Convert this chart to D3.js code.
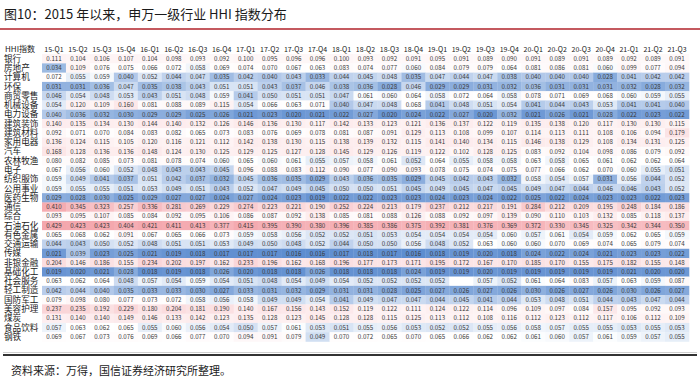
<!DOCTYPE html>
<html>
<head>
<meta charset="utf-8">
<script src="https://cdn.jsdelivr.net/npm/d3@7"></script>
<style>
  body { margin: 0; background: #fff; }
  svg { display: block; font-family: "Noto Sans CJK SC", "Noto Sans", sans-serif; }
</style>
</head>
<body>
<svg id="chart" width="700" height="383"></svg>
<script>
// DATA -----------------------------------------------------------
const quarters = ["15-Q1","15-Q2","15-Q3","15-Q4","16-Q1","16-Q2","16-Q3","16-Q4",
  "17-Q1","17-Q2","17-Q3","17-Q4","18-Q1","18-Q2","18-Q3","18-Q4",
  "19-Q1","19-Q2","19-Q3","19-Q4","20-Q1","20-Q2","20-Q3","20-Q4","21-Q1","21-Q2","21-Q3"]

const hhiBank = [0.111,0.104,0.106,0.107,0.104,0.098,0.093,0.092, 0.100,0.095,0.096,0.096,0.100,0.093,0.092,0.091,0.095,0.091, 0.089,0.090,0.091,0.089,0.091,0.089,0.092,0.089,0.091]
const hhiRealEstate = [0.034,0.109,0.076,0.075,0.066,0.072,0.058,0.069, 0.074,0.070,0.067,0.063,0.083,0.074,0.077,0.060,0.084,0.079, 0.079,0.064,0.081,0.086,0.081,0.060,0.099,0.077,0.094]
const hhiComputer = [0.072,0.055,0.059,0.040,0.052,0.044,0.047,0.035, 0.042,0.040,0.043,0.033,0.044,0.045,0.048,0.035,0.047,0.044, 0.047,0.038,0.040,0.040,0.040,0.028,0.041,0.042,0.042]
const hhiEnviron = [0.031,0.031,0.036,0.047,0.035,0.038,0.043,0.051, 0.051,0.043,0.037,0.046,0.038,0.036,0.028,0.046,0.029,0.029, 0.031,0.032,0.036,0.031,0.031,0.031,0.032,0.028,0.032]
const hhiRetail = [0.046,0.054,0.048,0.053,0.043,0.051,0.048,0.059, 0.041,0.050,0.051,0.051,0.047,0.061,0.060,0.064,0.058,0.072, 0.064,0.058,0.078,0.071,0.069,0.068,0.060,0.059,0.055]
const hhiMachinery = [0.054,0.120,0.109,0.160,0.081,0.088,0.089,0.115, 0.054,0.066,0.063,0.071,0.040,0.047,0.048,0.068,0.041,0.048, 0.051,0.054,0.041,0.044,0.043,0.053,0.041,0.041,0.040]
const hhiPowerEquip = [0.040,0.036,0.032,0.030,0.029,0.029,0.025,0.026, 0.021,0.023,0.020,0.021,0.022,0.027,0.020,0.024,0.022,0.027, 0.020,0.032,0.021,0.026,0.021,0.028,0.022,0.023,0.022]
const hhiConstruction = [0.140,0.135,0.134,0.130,0.144,0.140,0.132,0.126, 0.146,0.136,0.130,0.117,0.142,0.133,0.123,0.121,0.136,0.137, 0.122,0.119,0.135,0.138,0.120,0.117,0.130,0.130,0.115]
const hhiBuildMat = [0.092,0.071,0.070,0.084,0.083,0.082,0.065,0.073, 0.083,0.076,0.069,0.078,0.081,0.087,0.091,0.129,0.113,0.108, 0.099,0.107,0.114,0.113,0.111,0.108,0.106,0.094,0.179]
const hhiAppliance = [0.136,0.124,0.115,0.105,0.120,0.116,0.121,0.112, 0.142,0.138,0.130,0.115,0.138,0.139,0.132,0.115,0.141,0.140, 0.134,0.115,0.146,0.138,0.129,0.108,0.134,0.131,0.125]
const hhiAuto = [0.168,0.128,0.136,0.136,0.148,0.124,0.130,0.125, 0.129,0.125,0.127,0.128,0.145,0.129,0.126,0.119,0.122,0.102, 0.128,0.125,0.083,0.092,0.104,0.098,0.086,0.079,0.092]
const hhiAgri = [0.080,0.082,0.085,0.073,0.081,0.078,0.074,0.060, 0.065,0.060,0.061,0.055,0.057,0.058,0.061,0.052,0.064,0.055, 0.058,0.058,0.063,0.058,0.065,0.061,0.062,0.062,0.064]
const hhiElectronics = [0.067,0.056,0.060,0.052,0.048,0.043,0.043,0.045, 0.096,0.088,0.083,0.112,0.090,0.077,0.090,0.093,0.078,0.075, 0.074,0.075,0.077,0.066,0.062,0.070,0.060,0.055,0.051]
const hhiTextile = [0.059,0.049,0.041,0.037,0.051,0.042,0.037,0.032, 0.045,0.036,0.035,0.029,0.043,0.036,0.035,0.029,0.045,0.042, 0.043,0.032,0.058,0.054,0.057,0.031,0.056,0.044,0.052]
const hhiUtilities = [0.059,0.055,0.055,0.051,0.053,0.049,0.051,0.043, 0.052,0.047,0.049,0.045,0.050,0.050,0.051,0.045,0.049,0.045, 0.047,0.045,0.049,0.047,0.044,0.046,0.046,0.043,0.052]
const hhiPharma = [0.029,0.028,0.030,0.025,0.029,0.027,0.027,0.024, 0.027,0.024,0.023,0.019,0.022,0.022,0.023,0.023,0.024,0.023, 0.024,0.022,0.025,0.022,0.024,0.023,0.023,0.022,0.023]
const hhiTelecom = [0.410,0.345,0.323,0.257,0.336,0.281,0.269,0.229, 0.274,0.223,0.221,0.190,0.252,0.224,0.213,0.179,0.237,0.212, 0.217,0.191,0.284,0.212,0.209,0.195,0.248,0.184,0.186]
const hhiConglomerate = [0.093,0.095,0.107,0.085,0.084,0.092,0.095,0.106, 0.086,0.087,0.092,0.138,0.085,0.081,0.088,0.126,0.088,0.092, 0.097,0.139,0.090,0.110,0.103,0.132,0.085,0.118,0.137]
const hhiPetro = [0.429,0.423,0.423,0.404,0.421,0.411,0.413,0.377, 0.415,0.395,0.390,0.380,0.396,0.385,0.386,0.375,0.392,0.381, 0.376,0.369,0.372,0.330,0.345,0.325,0.342,0.344,0.350]
const hhiMetals = [0.065,0.068,0.062,0.091,0.067,0.065,0.066,0.073, 0.059,0.058,0.056,0.052,0.052,0.051,0.053,0.054,0.054,0.054, 0.054,0.060,0.057,0.061,0.054,0.059,0.062,0.065,0.059]
const hhiTransport = [0.044,0.043,0.050,0.052,0.048,0.051,0.051,0.053, 0.049,0.050,0.048,0.052,0.044,0.050,0.050,0.056,0.048,0.052, 0.063,0.060,0.060,0.070,0.069,0.074,0.065,0.079,0.074]
const hhiMedia = [0.021,0.039,0.023,0.025,0.021,0.019,0.018,0.017, 0.017,0.017,0.016,0.016,0.017,0.018,0.017,0.016,0.018,0.019, 0.020,0.018,0.024,0.022,0.024,0.021,0.023,0.023,0.022]
const hhiNonBank = [0.204,0.146,0.186,0.155,0.234,0.202,0.197,0.162, 0.233,0.196,0.162,0.168,0.196,0.177,0.173,0.171,0.195,0.172, 0.167,0.170,0.185,0.170,0.155,0.175,0.182,0.155,0.148]
const hhiChemical = [0.019,0.020,0.021,0.028,0.018,0.019,0.018,0.026, 0.020,0.018,0.018,0.026,0.018,0.018,0.018,0.024,0.019,0.019, 0.020,0.019,0.019,0.019,0.019,0.019,0.021,0.020,0.020]
const hhiSocial = [0.063,0.062,0.064,0.048,0.057,0.054,0.059,0.054, 0.051,0.048,0.054,0.049,0.054,0.052,0.052,0.052,0.052,null, 0.057,0.052,0.061,0.064,0.083,0.057,0.063,0.059,0.087]
const hhiLightInd = [0.042,0.044,0.040,0.035,0.033,0.033,0.030,0.027, 0.033,0.031,0.032,0.029,0.031,0.031,0.028,0.025,0.027,0.026, 0.027,0.026,0.030,0.026,0.027,0.026,0.030,0.026,0.027]
const hhiDefense = [0.079,0.098,0.080,0.077,0.073,0.072,0.058,0.056, 0.058,0.049,0.049,0.054,0.041,0.049,0.047,0.047,0.044,0.045, 0.041,0.044,0.053,0.048,0.051,0.044,0.043,0.047,0.044]
const hhiBeauty = [0.237,0.235,0.192,0.229,0.180,0.204,0.181,0.190, 0.140,0.167,0.156,0.143,0.152,0.119,0.122,0.111,0.124,0.122, 0.114,0.096,0.109,0.097,0.084,0.157,0.095,0.092,0.093]
const hhiCoal = [0.131,0.140,0.140,0.149,0.146,0.133,0.142,0.123, 0.135,0.128,0.123,0.145,0.128,0.128,0.115,0.125,0.113,0.112, 0.108,0.116,0.112,0.123,0.112,0.117,0.106,0.112,0.109]
const hhiFood = [0.057,0.063,0.062,0.065,0.055,0.060,0.056,0.054, 0.050,0.057,0.061,0.053,0.051,0.055,0.056,0.053,0.052,0.052, 0.055,0.056,0.058,0.057,0.055,0.055,0.053,0.055,0.053]
const hhiSteel = [0.069,0.067,0.073,0.076,0.069,0.066,0.077,0.070, 0.094,0.091,0.079,0.049,0.070,0.072,0.065,0.070,0.065,0.066, 0.062,0.062,0.061,0.060,0.057,0.061,0.059,0.057,0.055]

const industries = ["银行","房地产","计算机","环保","商贸零售","机械设备","电力设备","建筑装饰","建筑材料",
  "家用电器","汽车","农林牧渔","电子","纺织服饰","公用事业","医药生物","通信","综合","石油石化","有色金属",
  "交通运输","传媒","非银金融","基础化工","社会服务","轻工制造","国防军工","美容护理","煤炭","食品饮料","钢铁"]

const series = [hhiBank, hhiRealEstate, hhiComputer, hhiEnviron, hhiRetail, hhiMachinery, hhiPowerEquip,
  hhiConstruction, hhiBuildMat, hhiAppliance, hhiAuto, hhiAgri, hhiElectronics, hhiTextile, hhiUtilities,
  hhiPharma, hhiTelecom, hhiConglomerate, hhiPetro, hhiMetals, hhiTransport, hhiMedia, hhiNonBank,
  hhiChemical, hhiSocial, hhiLightInd, hhiDefense, hhiBeauty, hhiCoal, hhiFood, hhiSteel]

// build cell list
let cells = []
industries.forEach((ind, i) => {
    series[i].forEach((v, j) => {
        cells.push({ industry: ind, quarter: quarters[j], value: v })
    })
})

const allValues = cells.map(d => d.value).filter(v => v != null)

// SCALES -----------------------------------------------------------
const width = 700
const height = 383

const xScale = d3.scaleBand()
    .domain(quarters)
    .range([42, 689])

const rowH = 9.27
const yScale = d3.scaleBand()
    .domain(industries)
    .range([54.1, 54.1 + rowH * industries.length])

const colorScale = d3.scaleLinear()
    .domain([d3.min(allValues), d3.median(allValues), d3.max(allValues)])
    .range(["#5d8dd0", "#ffffff", "#f4a7ad"])

const svg = d3.select("#chart")

// TITLE -----------------------------------------------------------
svg.append("text")
    .attr("x", 4)
    .attr("y", 19)
    .attr("font-size", "13px")
    .attr("fill", "#1a1a1a")
    .text("图10：2015 年以来，申万一级行业 HHI 指数分布")

svg.append("line")
    .attr("x1", 0).attr("x2", width)
    .attr("y1", 29).attr("y2", 29)
    .attr("stroke", "#b0222a")
    .attr("stroke-width", 1.5)

// CELLS -----------------------------------------------------------
const cellG = svg.append("g")

cellG.selectAll("rect")
    .data(cells)
    .join("rect")
        .attr("x", d => xScale(d.quarter))
        .attr("y", d => yScale(d.industry))
        .attr("width", xScale.bandwidth() + 0.3)
        .attr("height", yScale.bandwidth() + 0.3)
        .attr("fill", d => d.value == null ? "#ffffff" : colorScale(d.value))

cellG.selectAll("text")
    .data(cells.filter(d => d.value != null))
    .join("text")
        .attr("x", d => xScale(d.quarter) + xScale.bandwidth() / 2)
        .attr("y", d => yScale(d.industry) + yScale.bandwidth() / 2)
        .attr("dy", "0.35em")
        .attr("text-anchor", "middle")
        .attr("font-size", "6.2px")
        .attr("fill", "#3a3a3a")
        .text(d => d3.format(".3f")(d.value))

// HEADER -----------------------------------------------------------
svg.append("text")
    .attr("x", 5)
    .attr("y", 49.5)
    .attr("dy", "0.35em")
    .attr("font-size", "8px")
    .attr("fill", "#222")
    .text("HHI指数")

svg.append("g")
    .selectAll("text")
    .data(quarters)
    .join("text")
        .attr("x", d => xScale(d) + xScale.bandwidth() / 2)
        .attr("y", 49.5)
        .attr("dy", "0.35em")
        .attr("text-anchor", "middle")
        .attr("font-size", "7px")
        .attr("fill", "#222")
        .text(d => d)

// ROW LABELS -----------------------------------------------------------
svg.append("g")
    .selectAll("text")
    .data(industries)
    .join("text")
        .attr("x", 4)
        .attr("y", d => yScale(d) + yScale.bandwidth() / 2)
        .attr("dy", "0.35em")
        .attr("font-size", "8.6px")
        .attr("fill", "#222")
        .text(d => d)

// BOTTOM RULE + SOURCE -----------------------------------------------------------
svg.append("line")
    .attr("x1", 3).attr("x2", 697)
    .attr("y1", 352.5).attr("y2", 352.5)
    .attr("stroke", "#cfcfcf")
    .attr("stroke-width", 1)

svg.append("line")
    .attr("x1", 3).attr("x2", 697)
    .attr("y1", 355).attr("y2", 355)
    .attr("stroke", "#333")
    .attr("stroke-width", 2)

svg.append("text")
    .attr("x", 11)
    .attr("y", 371)
    .attr("dy", "0.35em")
    .attr("font-size", "11px")
    .attr("fill", "#1a1a1a")
    .text("资料来源：万得，国信证券经济研究所整理。")
</script>
</body>
</html>
